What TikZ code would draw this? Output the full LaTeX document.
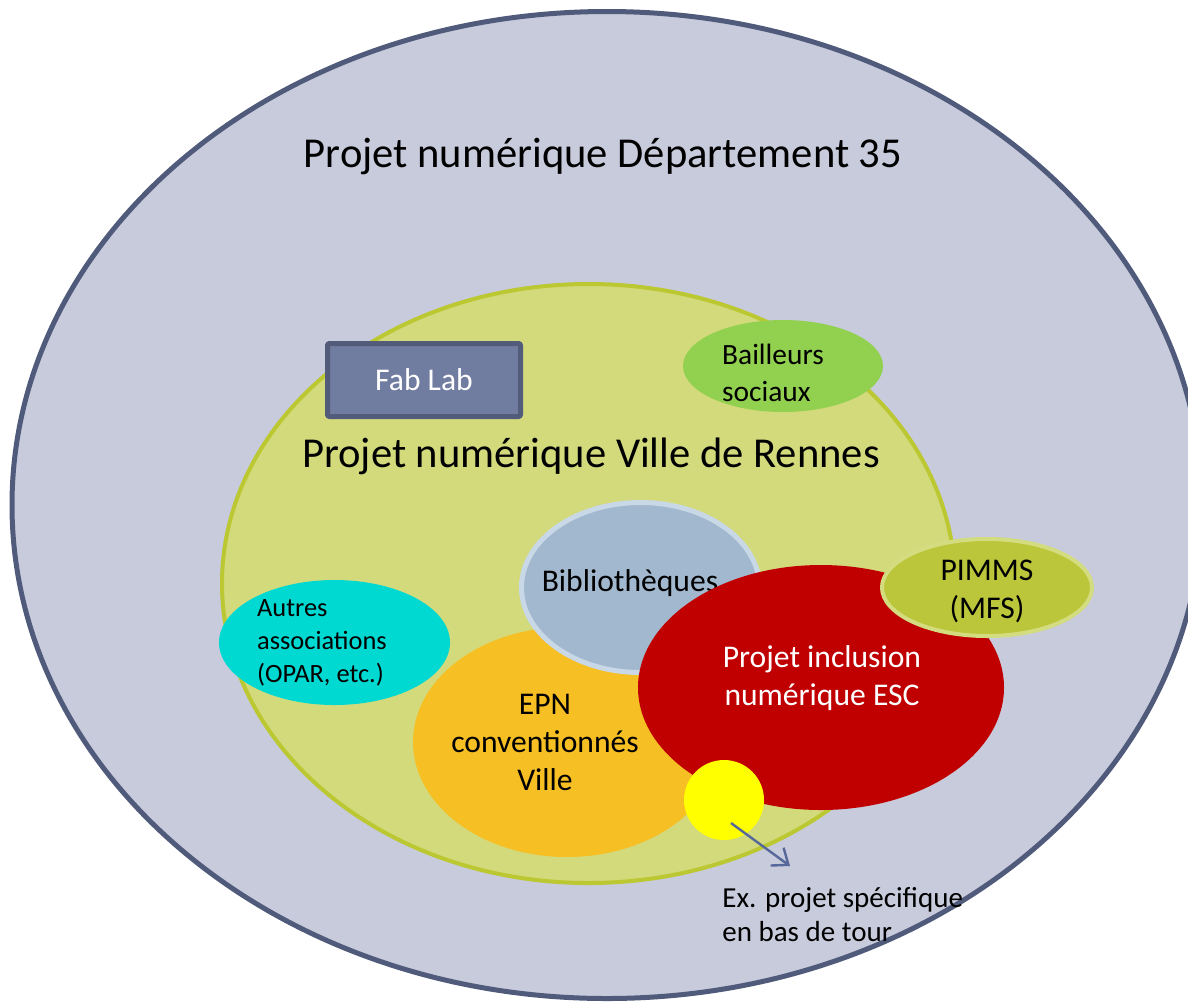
\documentclass[tikz,border=0pt]{standalone}
\usepackage{fontspec}
\setmainfont{Carlito}
\usetikzlibrary{shapes.geometric, arrows.meta, positioning}

\definecolor{depfill}{HTML}{C7CBDB}
\definecolor{depline}{HTML}{505A7B}
\definecolor{villefill}{HTML}{D3DA7C}
\definecolor{villeline}{HTML}{BCC832}
\definecolor{fabfill}{HTML}{717CA1}
\definecolor{fabline}{HTML}{525B7A}
\definecolor{bailfill}{HTML}{92D050}
\definecolor{bibfill}{HTML}{A1B8CF}
\definecolor{bibline}{HTML}{C8D8E6}
\definecolor{epnfill}{HTML}{F6BF23}
\definecolor{escfill}{HTML}{C00000}
\definecolor{pimfill}{HTML}{BCC63A}
\definecolor{pimline}{HTML}{D3DC7E}
\definecolor{assofill}{HTML}{00D8D2}
\definecolor{tourfill}{HTML}{FFFF00}
\definecolor{arrowblue}{HTML}{56679A}

\begin{document}
\begin{tikzpicture}[x=0.5pt, y=-0.5pt,
		blob/.style = {ellipse, inner sep=0pt},
		txt/.style = {align=center, inner sep=0pt,
			font=\fontsize{15.8}{19}\selectfont},
		big/.style = {inner sep=0pt, font=\fontsize{21.3}{25}\selectfont},
		pointer/.style = {
			-{Straight Barb[length=7pt,width=11pt]}, line width=1.2pt, draw=arrowblue
		}]
		\useasboundingbox (0,0) rectangle (1188,1003);
		
		\node at (607,505) (dep) [blob, fill=depfill, draw=depline, line width=2.5pt,
			minimum width=595pt, minimum height=493.5pt] {};
		\node at (603,156) (depText) [big] {Projet numérique Département 35};
		
		\node at (588.5,583.5) (ville) [blob, fill=villefill, draw=villeline, line width=2pt,
			minimum width=366.5pt, minimum height=299.5pt] {};
		\node at (591,456) (villeText) [big] {Projet numérique Ville de Rennes};
		
		\node at (424,380) (fab) [rectangle, rounded corners=1pt, fill=fabfill, draw=fabline,
			line width=2.5pt, minimum width=96.5pt, minimum height=36.5pt,
			txt, text=white] {Fab Lab};
		
		\node at (783,366) (bail) [blob, fill=bailfill, minimum width=100pt, minimum height=46pt] {};
		\node at (773,373) (bailText) [txt, align=left, font=\fontsize{14.7}{18.5}\selectfont] {Bailleurs\\sociaux};
		
		\node at (334.5,642.5) (asso) [blob, fill=assofill, minimum width=115.5pt, minimum height=62.5pt] {};
		\node at (322,643) (assoText) [txt, align=left, font=\fontsize{13.2}{16.5}\selectfont] {Autres\\associations\\(OPAR, etc.)};
		
		\node at (567,742) (epn) [blob, fill=epnfill, minimum width=154pt, minimum height=115pt] {};
		\node at (545,742) (epnText) [txt] {EPN\\conventionnés\\Ville};
		
		\node at (640.5,587.5) (bib) [blob, fill=bibfill, draw=bibline, line width=2.5pt,
			minimum width=119pt, minimum height=85pt] {};
		\node at (630,583) (bibText) [txt] {Bibliothèques};
		
		\node at (821,687.5) (esc) [blob, fill=escfill, minimum width=183pt, minimum height=122.5pt] {};
		\node at (822,678) (escText) [txt, text=white] {Projet inclusion\\numérique ESC};
		
		\node at (987,587.5) (pim) [blob, fill=pimfill, draw=pimline, line width=2pt,
			minimum width=105pt, minimum height=48.5pt] {};
		\node at (987,591) (pimText) [txt] {PIMMS\\(MFS)};
		
		\node at (724,800) (tour) [circle, fill=tourfill, inner sep=0pt, minimum size=40pt] {};
		
		\node at (722,915) (tourText) [txt, anchor=west, align=left,
			font=\fontsize{14.5}{17}\selectfont] {Ex. projet spécifique\\en bas de tour};
		\coordinate (tourTip) at (790,866);
		
		\draw [pointer] ([shift={(7,23)}]tour.center) -- (tourTip);
	\end{tikzpicture}
\end{document}
